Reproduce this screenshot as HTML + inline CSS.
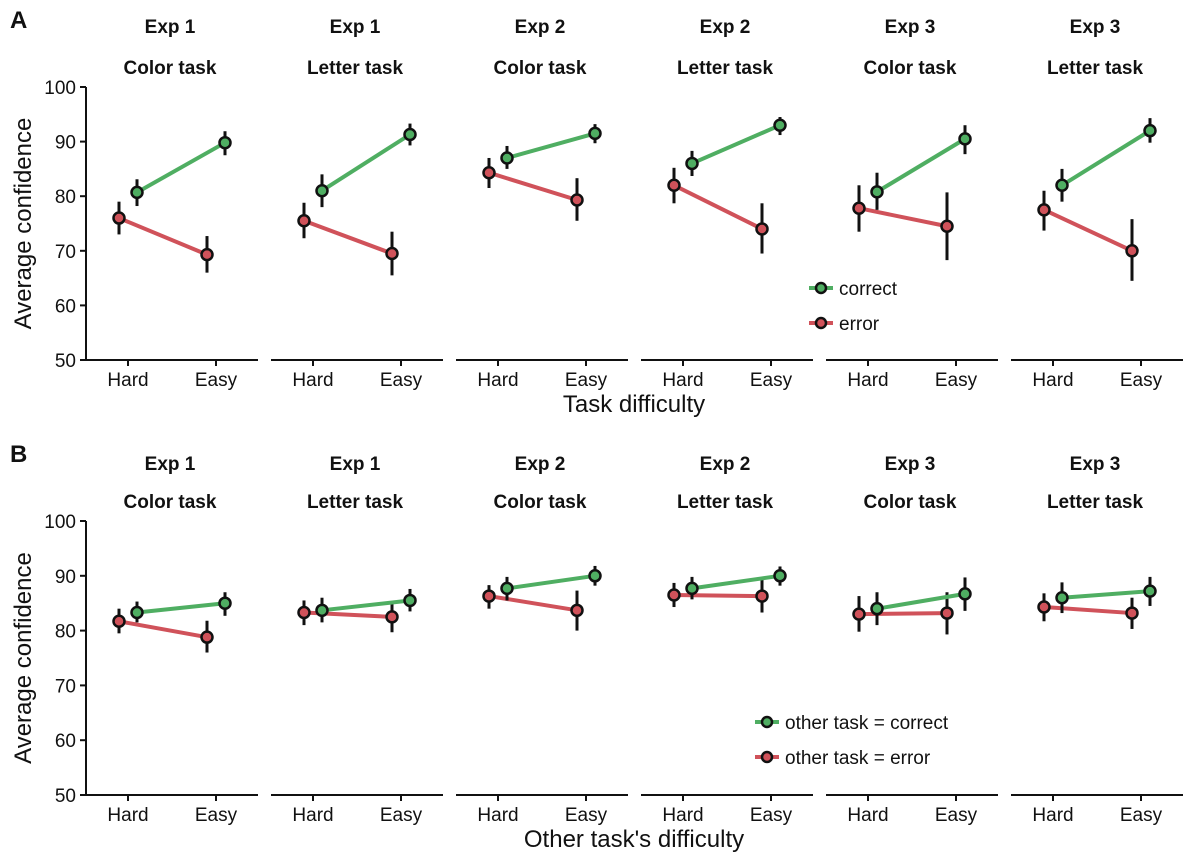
<!DOCTYPE html>
<html><head><meta charset="utf-8"><style>
body{margin:0;background:#fff;}
svg{display:block;font-family:"Liberation Sans",sans-serif;}
</style></head><body>
<svg id="chart" width="1200" height="862" viewBox="0 0 1200 862"></svg>
<script>
const panelExp=["Exp 1","Exp 1","Exp 2","Exp 2","Exp 3","Exp 3"];
const panelTask=["Color task","Letter task","Color task","Letter task","Color task","Letter task"];
const categories=["Hard","Easy"];
const yTicks=[50,60,70,80,90,100];
// Panel A: [hard, easy] means, low, high
const aCorrect=[[80.7,89.8],[81,91.3],[87,91.5],[86,93],[80.8,90.5],[82,92]];
const aCorrectLo=[[78.2,87.5],[78,89.3],[85,89.7],[83.7,91.2],[77.5,87.7],[79,89.8]];
const aCorrectHi=[[83.1,91.9],[84,93.3],[89.2,93.2],[88.3,94.5],[84.3,93],[85,94.3]];
const aError=[[76,69.3],[75.5,69.5],[84.3,79.3],[82,74],[77.8,74.5],[77.5,70]];
const aErrorLo=[[73,66],[72.3,65.5],[81.5,75.5],[78.7,69.5],[73.5,68.3],[73.7,64.5]];
const aErrorHi=[[79,72.7],[78.8,73.5],[87,83.3],[85.2,78.7],[82,80.7],[81,75.8]];
// Panel B
const bCorrect=[[83.3,85],[83.7,85.5],[87.7,90],[87.7,90],[84,86.7],[86,87.2]];
const bCorrectLo=[[81.5,82.7],[81.5,83.5],[85.5,88.2],[85.7,88.2],[81,83.6],[83.2,84.5]];
const bCorrectHi=[[85.3,87],[86,87.6],[89.8,91.8],[89.8,91.7],[87,89.7],[88.8,89.8]];
const bError=[[81.7,78.8],[83.3,82.5],[86.3,83.7],[86.5,86.3],[83,83.2],[84.3,83.2]];
const bErrorLo=[[79.5,76],[81,79.7],[84,80],[84.3,83.3],[79.8,79.3],[81.7,80.3]];
const bErrorHi=[[84,81.8],[85.5,85.3],[88.3,87.3],[88.7,89.5],[86.3,87],[86.8,86]];

const NS="http://www.w3.org/2000/svg";
const svg=document.getElementById('chart');
const GREEN="#4fae62",RED="#d0525a";
function mk(tag,attrs,parent){const e=document.createElementNS(NS,tag);for(const k in attrs)e.setAttribute(k,attrs[k]);(parent||svg).appendChild(e);return e;}
function txt(s,x,y,size,weight,anchor,parent){const t=mk('text',{x:x,y:y,'font-size':size,'font-weight':weight||'normal','text-anchor':anchor||'middle',fill:'#111'},parent);t.textContent=s;return t;}

function drawRow(top,bottom,titleY1,titleY2,correct,cLo,cHi,error,eLo,eHi,prefix,xlabel,xlabelY,legendX,legendY,legendLabels,label,labelY){
  const g=mk('g',{});
  
  
  const yS=v=>bottom-(v-50)/50*(bottom-top);
  const pl=txt(label,10,labelY,24,'bold','start',g);
  
  
  const ya=mk('line',{x1:86,x2:86,y1:top,y2:bottom,stroke:'#111','stroke-width':2},g);
  
  
  yTicks.forEach(t=>{
    mk('line',{x1:80,x2:86,y1:yS(t),y2:yS(t),stroke:'#111','stroke-width':2},g);
    const tl=txt(String(t),76,yS(t)+7,19,'normal','end',g);
    
    
  });
  const yt=txt('Average confidence',0,0,24,'normal','middle',g);
  yt.setAttribute('transform','translate(31,'+((top+bottom)/2)+') rotate(-90)');
  
  
  for(let p=0;p<6;p++){
    const x0=86+p*185;
    const xs=[x0+42,x0+130];
    const pg=mk('g',{},g);
    
    
    txt(panelExp[p],x0+84,titleY1,19,'bold','middle',pg);
    txt(panelTask[p],x0+84,titleY2,19,'bold','middle',pg);
    mk('line',{x1:x0,x2:x0+172,y1:bottom,y2:bottom,stroke:'#111','stroke-width':2},pg);
    categories.forEach((c,i)=>{
      mk('line',{x1:xs[i],x2:xs[i],y1:bottom,y2:bottom+6,stroke:'#111','stroke-width':2},pg);
      txt(c,xs[i],bottom+26,19,'normal','middle',pg);
    });
    const series=[[error,eLo,eHi,RED,-9,'error'],[correct,cLo,cHi,GREEN,9,'correct']];
    series.forEach(([m,lo,hi,col,off,nm])=>{
      const px=xs.map(x=>x+off);
      const ln=mk('line',{x1:px[0],y1:yS(m[p][0]),x2:px[1],y2:yS(m[p][1]),stroke:col,'stroke-width':4},pg);
      
      
      for(let i=0;i<2;i++){
        mk('line',{x1:px[i],x2:px[i],y1:yS(lo[p][i]),y2:yS(hi[p][i]),stroke:'#111','stroke-width':3},pg);
        const c=mk('circle',{cx:px[i],cy:yS(m[p][i]),r:5.5,fill:col,stroke:'#111','stroke-width':2.5},pg);
        
        
      }
    });
  }
  const xt=txt(xlabel,634,xlabelY,24,'normal','middle',g);
  
  
  const lg=mk('g',{},g);
  
  
  [[GREEN,legendLabels[0]],[RED,legendLabels[1]]].forEach(([col,s],i)=>{
    const y=legendY+i*35;
    mk('line',{x1:legendX,x2:legendX+24,y1:y,y2:y,stroke:col,'stroke-width':4},lg);
    mk('circle',{cx:legendX+12,cy:y,r:5,fill:col,stroke:'#111','stroke-width':2.5},lg);
    txt(s,legendX+30,y+7,19,'normal','start',lg);
  });
}
drawRow(87,360,33,74,aCorrect,aCorrectLo,aCorrectHi,aError,aErrorLo,aErrorHi,'a','Task difficulty',412,809,288,['correct','error'],'A',28);
drawRow(521,795,470,508,bCorrect,bCorrectLo,bCorrectHi,bError,bErrorLo,bErrorHi,'b',"Other task's difficulty",847,755,722,['other task = correct','other task = error'],'B',462);
</script>
</body></html>
